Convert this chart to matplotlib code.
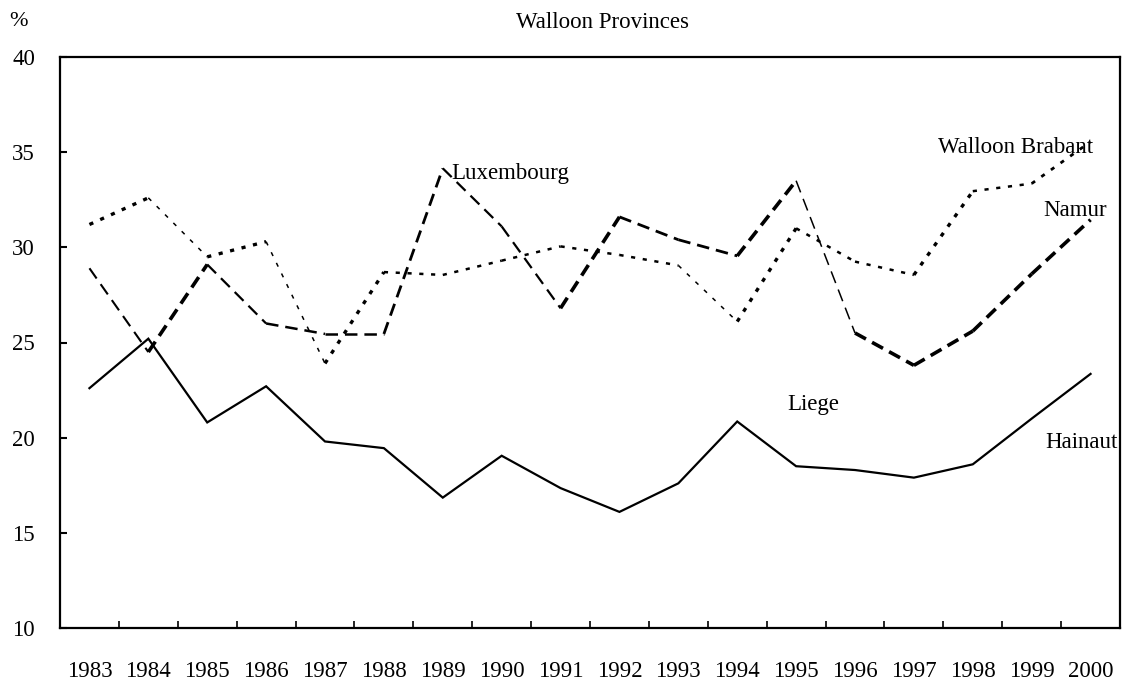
import numpy as np
import matplotlib
matplotlib.use("Agg")
import matplotlib.pyplot as plt
from matplotlib.ticker import FixedLocator, NullFormatter

years = [1983, 1984, 1985, 1986, 1987, 1988, 1989, 1990, 1991,
         1992, 1993, 1994, 1995, 1996, 1997, 1998, 1999, 2000]

hainaut = [22.6, 25.2, 20.8, 22.7, 19.8, 19.45, 16.85, 19.05, 17.35,
           16.1, 17.6, 20.85, 18.5, 18.3, 17.9, 18.6, 21.0, 23.35]
# dotted path (ends as Walloon Brabant)
walloon_brabant = [31.2, 32.6, 29.5, 30.3, 23.9, 28.7, 28.55, 29.3, 30.05,
                   29.6, 29.05, 26.1, 31.0, 29.25, 28.55, 32.95, 33.35, 35.55]
# dashed path (Luxembourg peak in 1989, ends as Namur)
lux_namur = [28.9, 24.5, 29.1, 26.0, 25.45, 25.45, 34.15, 31.1, 26.8,
             31.6, 30.4, 29.55, 33.5, 25.5, 23.8, 25.6, 28.6, 31.45]

ytick_vals = [10, 15, 20, 25, 30, 35, 40]

# per-segment stroke widths (scan-like variation)
w_dot = [2.4, 1.1, 2.4, 1.1, 2.4, 1.8, 1.8, 1.8, 1.8, 1.8, 1.1, 2.4, 1.8, 1.8, 2.4, 1.8, 2.0]
w_dash = [1.5, 2.6, 1.6, 1.8, 1.8, 2.0, 1.6, 1.6, 2.6, 2.0, 2.0, 2.6, 1.1, 2.6, 2.6, 2.6, 2.6]

plt.rcParams['font.family'] = ['Liberation Serif', 'DejaVu Serif']
plt.rcParams['lines.scale_dashes'] = False

fig = plt.figure(figsize=(11.25, 6.81), dpi=100)
ax = fig.add_axes([60/1125, 1-628/681, 1060/1125, 571/681])

x = np.arange(len(years))

ax.plot(x, hainaut, color='black', lw=1.6, solid_joinstyle='miter')

def draw_path(vals, widths, dashes):
    for i, w in enumerate(widths):
        ax.plot(x[i:i+2], vals[i:i+2], color='black', lw=w,
                linestyle=(0, dashes), dash_capstyle='butt')

draw_path(walloon_brabant, w_dot, (3.0, 5.5))
draw_path(lux_namur, w_dash, (9.0, 5.0))

ax.set_xlim(-0.5, len(years) - 0.5)
ax.set_ylim(10, 40)
ax.set_yticks(ytick_vals)
ax.set_yticklabels([str(v) for v in ytick_vals])
ax.set_xticks(x)
ax.set_xticklabels([str(y) for y in years])
ax.xaxis.set_minor_locator(FixedLocator(np.arange(0.5, len(years) - 1, 1.0)))
ax.xaxis.set_minor_formatter(NullFormatter())
ax.tick_params(axis='x', which='major', length=0, pad=24, labelsize=16.5)
ax.tick_params(axis='x', which='minor', direction='in', length=5, width=1.2)
ax.tick_params(axis='y', direction='in', length=5, width=1.5, pad=18, labelsize=16.5)
for s in ax.spines.values():
    s.set_linewidth(1.6)

fs = 16.5
ax.text(6.15, 33.9, "Luxembourg", ha='left', va='center', fontsize=fs)
ax.text(17.04, 35.25, "Walloon Brabant", ha='right', va='center', fontsize=fs)
ax.text(17.28, 31.96, "Namur", ha='right', va='center', fontsize=fs)
ax.text(12.29, 21.72, "Liege", ha='center', va='center', fontsize=fs)
ax.text(17.46, 19.73, "Hainaut", ha='right', va='center', fontsize=fs)

fig.text(18/1125, 1-22/681, "%", ha='center', va='center', fontsize=16)
fig.text(603/1125, 1-22/681, "Walloon Provinces", ha='center', va='center', fontsize=16.5)

fig.savefig("out.png", dpi=100)
